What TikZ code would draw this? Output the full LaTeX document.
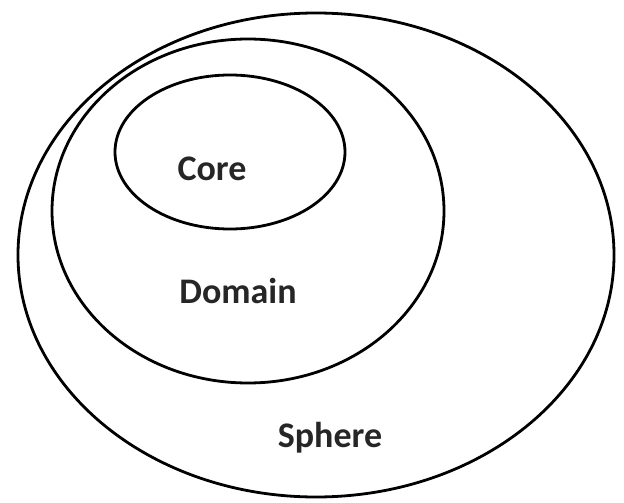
\documentclass[tikz,border=0pt]{standalone}
\usepackage{fontspec}
\setmainfont{Carlito}
\usepackage{tikz}

\begin{document}
\begin{tikzpicture}[x=1pt, y=-1pt, line width=2.8pt,
    lbl/.style={anchor=base, inner sep=0pt, font=\fontsize{36}{40}\selectfont\bfseries, text=black!85}]
      \useasboundingbox (0,0) rectangle (624,503);

      \draw (316, 255) ellipse (298pt and 242pt);
      \draw (248, 211) ellipse (196pt and 172pt);
      \draw (230, 152) ellipse (115pt and 77pt);

      \node[lbl] (core)   at (212, 180) {Core};
      \node[lbl] (domain) at (238, 303) {Domain};
      \node[lbl] (sphere) at (330, 447) {Sphere};
    \end{tikzpicture}
\end{document}
